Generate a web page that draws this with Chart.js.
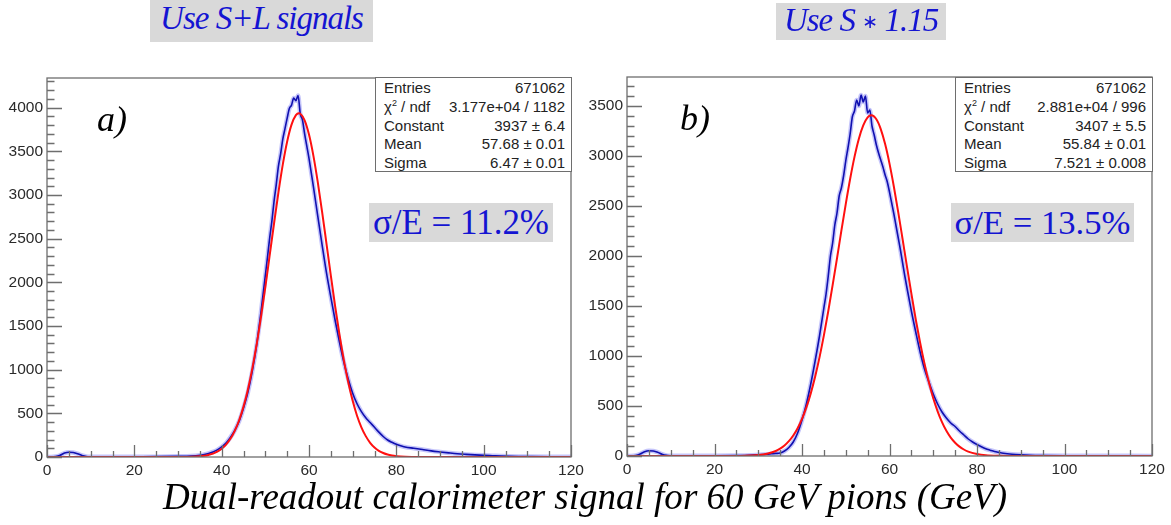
<!DOCTYPE html>
<html><head><meta charset="utf-8">
<script src="https://cdn.jsdelivr.net/npm/chart.js@4.4.0/dist/chart.umd.min.js"></script>
<style>
html,body{margin:0;padding:0;background:#fff;}
#wrap{position:relative;width:1171px;height:525px;overflow:hidden;}
canvas{position:absolute;}
.title{position:absolute;background:#d9d9d9;color:#1414d2;font-family:'Liberation Serif','Times New Roman',serif;font-style:italic;white-space:nowrap;text-align:center;}
.stats{position:absolute;box-sizing:border-box;background:#fff;border:1px solid #6e6e6e;font-family:'Liberation Sans',Arial,sans-serif;font-size:15px;color:#222;}
.row{position:absolute;left:0;right:0;height:19px;line-height:19px;}
.row .l{position:absolute;left:8px;}
.row .v{position:absolute;right:6px;}
.row sup{font-size:9px;line-height:0;}
.res{position:absolute;background:#d9d9d9;color:#1414d2;font-family:'Liberation Serif','Times New Roman',serif;white-space:nowrap;text-align:center;}
.tag{position:absolute;font-family:'Liberation Serif','Times New Roman',serif;font-style:italic;color:#000;white-space:nowrap;}
.ast{font-family:'DejaVu Sans',sans-serif;font-style:normal;font-size:19px;vertical-align:3px;}
</style>
</head><body>
<div id="wrap">
<canvas id="cA" width="590" height="490" style="left:0;top:0"></canvas>
<canvas id="cB" width="591" height="490" style="left:580px;top:0"></canvas>

<div class="title" style="left:150px;top:0;width:223px;height:42px;line-height:36px;font-size:33px;letter-spacing:-1px;">Use S+L signals</div>
<div class="title" style="left:776px;top:3px;width:170px;height:37px;line-height:35px;font-size:33px;letter-spacing:-1px;">Use S <span class="ast">∗</span> 1.15</div>

<div class="stats" style="left:375px;top:77px;width:197px;height:95px;">
 <div class="row" style="top:0px"><span class="l">Entries</span><span class="v">671062</span></div>
 <div class="row" style="top:18.8px"><span class="l">χ<sup>2</sup> / ndf</span><span class="v">3.177e+04 / 1182</span></div>
 <div class="row" style="top:37.6px"><span class="l">Constant</span><span class="v">3937 ± 6.4</span></div>
 <div class="row" style="top:56.4px"><span class="l">Mean</span><span class="v">57.68 ± 0.01</span></div>
 <div class="row" style="top:75.2px"><span class="l">Sigma</span><span class="v">6.47 ± 0.01</span></div>
</div>
<div class="stats" style="left:955px;top:77px;width:198px;height:95px;">
 <div class="row" style="top:0px"><span class="l">Entries</span><span class="v">671062</span></div>
 <div class="row" style="top:18.8px"><span class="l">χ<sup>2</sup> / ndf</span><span class="v">2.881e+04 / 996</span></div>
 <div class="row" style="top:37.6px"><span class="l">Constant</span><span class="v">3407 ± 5.5</span></div>
 <div class="row" style="top:56.4px"><span class="l">Mean</span><span class="v">55.84 ± 0.01</span></div>
 <div class="row" style="top:75.2px"><span class="l">Sigma</span><span class="v">7.521 ± 0.008</span></div>
</div>

<div class="res" id="rA" style="left:369px;top:203px;width:184px;height:39px;line-height:39px;">σ/E = 11.2%</div>
<div class="res" id="rB" style="left:951px;top:203px;width:183px;height:39px;line-height:39px;">σ/E = 13.5%</div>

<div class="tag" style="left:97px;top:101px;font-size:36px;line-height:36px;">a)</div>
<div class="tag" style="left:680px;top:100px;font-size:36px;line-height:36px;">b)</div>

<div class="tag" id="xl" style="left:163px;top:479px;font-size:36px;line-height:36px;">Dual-readout calorimeter signal for 60 GeV pions (GeV)</div>
</div>

<script>
// ---------- data ----------
const xTickLabels = [0, 20, 40, 60, 80, 100, 120];
const yTickLabelsA = [0, 500, 1000, 1500, 2000, 2500, 3000, 3500, 4000];
const yTickLabelsB = [0, 500, 1000, 1500, 2000, 2500, 3000, 3500];
const yMaxA = 4340;
const yMaxB = 3790;

// panel a) : S+L signals, measured histogram
const energyA = [0,1,2,3,4,5,6,7,8,9,10,12,15,20,25,30,33,35,36,37,38,39,40,41,42,43,44,45,46,47,48,49,50,50.5,51,51.5,52,52.5,53,53.5,54,54.5,55,55.5,56,56.5,57,57.5,58,58.5,59,59.5,60,60.5,61,62,63,64,65,66,67,68,69,70,71,72,73,74,75,76,77,78,79,80,81,82,84,86,88,90,92,94,96,98,100,102,104,106,108,110,115,120];
const countsA = [0,0,5,20,45,55,52,38,18,6,3,2,2,3,4,8,12,20,28,40,58,82,115,160,225,305,410,560,740,980,1280,1660,2080,2290,2510,2700,2930,3120,3330,3470,3640,3760,3880,3990,4030,4110,4080,4140,3930,3860,3700,3560,3420,3260,3100,2760,2430,2110,1830,1560,1310,1080,890,730,610,520,450,395,340,285,235,195,168,145,128,115,100,85,70,58,47,37,30,24,19,15,11,8,6,5,3,2];
// panel a) : Gaussian fit curve
const fitEnergyA = [0,30,32,35,36,37,38,39,40,41,42,43,44,45,46,47,48,49,50,51,52,53,54,55,56,57,57.68,58,59,60,61,62,63,64,65,66,67,68,69,70,71,72,73,74,75,76,77,78,79,80,82,84,86,120];
const fitCountsA = [0,0,0,8,14,24,38,61,94,142,208,300,421,577,771,1009,1285,1601,1945,2311,2676,3030,3350,3613,3806,3915,3937,3932,3856,3692,3451,3150,2808,2444,2076,1722,1394,1104,852,643,473,340,239,163,109,71,46,28,17,10,3,1,0,0];

// panel b) : S*1.15, measured histogram
const energyB = [0,1,2,3,4,5,6,7,8,9,10,12,15,20,25,28,30,32,33,34,35,36,37,38,39,40,41,42,43,44,45,45.5,46,46.5,47,47.5,48,48.5,49,49.5,50,50.5,51,51.5,52,52.5,53,53.5,54,54.5,55,55.5,56,56.5,57,57.5,58,58.5,59,59.5,60,60.5,61,61.5,62,62.5,63,63.5,64,65,66,67,68,69,70,71,72,73,74,75,76,77,78,79,80,81,82,83,84,85,86,88,90,92,95,100,110,120];
const countsB = [0,0,5,20,42,52,50,38,18,6,3,2,2,2,4,7,12,18,22,26,30,50,85,140,230,360,520,720,950,1200,1480,1620,1800,2000,2130,2310,2430,2600,2680,2800,2950,3080,3220,3390,3450,3560,3500,3610,3540,3600,3430,3460,3300,3210,3110,3030,2960,2890,2810,2740,2640,2530,2420,2300,2180,2060,1930,1800,1680,1450,1240,1040,870,740,620,520,440,380,330,295,250,210,170,140,115,92,72,58,45,36,28,18,12,8,5,3,2,1];
// panel b) : Gaussian fit curve
const fitEnergyB = [0,24,26,28,30,32,34,35,36,37,38,39,40,41,42,43,44,45,46,47,48,49,50,51,52,53,54,55,55.84,57,58,59,60,61,62,63,64,65,66,67,68,69,70,71,72,73,74,75,76,77,78,80,82,85,90,120];
const fitCountsB = [0,0,1,4,9,22,50,73,105,148,205,278,371,486,626,793,986,1206,1448,1708,1977,2253,2519,2770,2991,3173,3306,3386,3407,3367,3269,3119,2924,2693,2437,2165,1891,1623,1367,1133,922,737,578,447,339,252,184,133,94,65,44,20,8,2,0,0];

// ---------- drawing ----------
const pts = (xs, ys) => xs.map((x, i) => ({x, y: ys[i]}));

const rootFrame = {
  id: 'rootFrame',
  afterDatasetsDraw(chart) {
    const {ctx, chartArea: a, scales: {x, y}} = chart;
    ctx.save();
    ctx.strokeStyle = '#6e6e6e';
    ctx.lineWidth = 1.3;
    ctx.strokeRect(a.left, a.top, a.right - a.left, a.bottom - a.top);
    ctx.beginPath();
    for (let v = x.min; v <= x.max + 1e-6; v += 5) {
      const px = Math.round(x.getPixelForValue(v)) + 0.5;
      const len = v % 20 === 0 ? 12 : 6;
      ctx.moveTo(px, a.bottom);
      ctx.lineTo(px, a.bottom - len);
    }
    for (let v = 0; v <= y.max; v += 100) {
      const py = Math.round(y.getPixelForValue(v)) + 0.5;
      const len = v % 500 === 0 ? 15 : 7.5;
      ctx.moveTo(a.left, py);
      ctx.lineTo(a.left + len, py);
    }
    ctx.stroke();
    ctx.restore();
  }
};

function makeChart(id, ex, ey, fx, fy, yMax, yLabels, padTop, padRight, xH) {
  const tickFont = {family: "'Liberation Sans', Arial, sans-serif", size: 15.5};
  return new Chart(document.getElementById(id), {
    type: 'line',
    data: {
      datasets: [
        {data: pts(fx, fy), borderColor: '#ff1010', borderWidth: 2, pointRadius: 0, cubicInterpolationMode: 'monotone'},
        {data: pts(ex, ey), borderColor: '#1010b0', borderWidth: 1.6, pointRadius: 0, cubicInterpolationMode: 'monotone'},
        {data: pts(ex, ey), borderColor: 'rgba(90,90,240,0.35)', borderWidth: 4.5, pointRadius: 0, cubicInterpolationMode: 'monotone'}
      ]
    },
    options: {
      responsive: false, animation: false, devicePixelRatio: 1,
      layout: {padding: {left: 0, top: padTop, right: padRight, bottom: 0}},
      plugins: {legend: {display: false}, tooltip: {enabled: false}},
      scales: {
        x: {
          type: 'linear', min: 0, max: 120,
          grid: {display: false, drawTicks: false}, border: {display: false},
          ticks: {padding: 4, maxRotation: 0, autoSkip: false, color: '#2a2a2a', font: tickFont, callback: v => String(v)},
          afterBuildTicks: ax => { ax.ticks = xTickLabels.map(v => ({value: v})); },
          afterFit: ax => { ax.height = xH; }
        },
        y: {
          type: 'linear', min: 0, max: yMax,
          grid: {display: false, drawTicks: false}, border: {display: false},
          ticks: {padding: 4, autoSkip: false, color: '#2a2a2a', font: tickFont, callback: v => String(v)},
          afterBuildTicks: ax => { ax.ticks = yLabels.map(v => ({value: v})); },
          afterFit: ax => { ax.width = 47; }
        }
      }
    },
    plugins: [rootFrame]
  });
}

makeChart('cA', energyA, countsA, fitEnergyA, fitCountsA, yMaxA, yTickLabelsA, 78, 19, 33);
makeChart('cB', energyB, countsB, fitEnergyB, fitCountsB, yMaxB, yTickLabelsB, 77, 19, 34);

// fit text widths to the reference's text extents
function fitWidth(el, target) {
  const cs = getComputedStyle(el);
  const c = document.createElement('canvas').getContext('2d');
  const size = parseFloat(cs.fontSize);
  c.font = cs.fontStyle + ' ' + size + 'px ' + cs.fontFamily;
  const w = c.measureText(el.textContent).width;
  el.style.fontSize = (size * target / w).toFixed(2) + 'px';
}
fitWidth(document.getElementById('xl'), 845);
fitWidth(document.getElementById('rA'), 176);
fitWidth(document.getElementById('rB'), 176);
</script>
</body></html>
